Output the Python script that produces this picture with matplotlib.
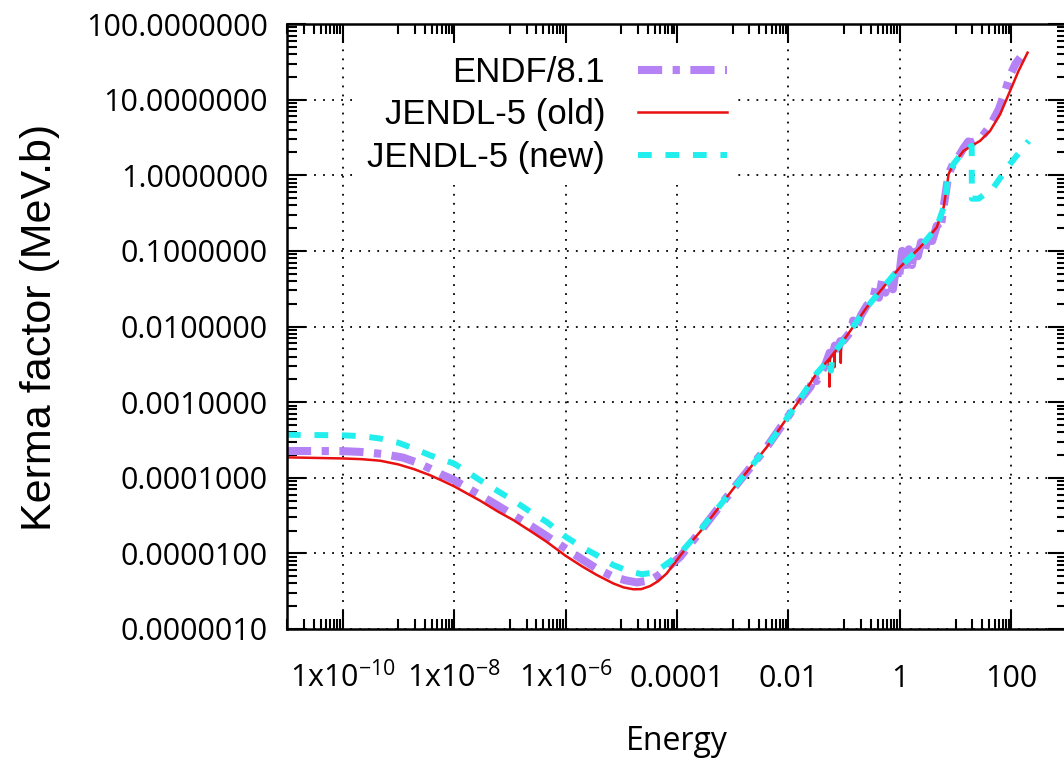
import matplotlib
matplotlib.use("Agg")
import matplotlib.pyplot as plt
from matplotlib.ticker import FixedLocator, NullFormatter

# ENDF/8.1 (energy in MeV, kerma in MeV.b)
endf_e = [1e-11, 1e-10, 2.0e-10, 5.0e-10, 1.2e-9, 2.2e-9, 3.7e-9, 6e-9, 1e-8, 1.7e-8,
          2.9e-8, 6e-8, 1.16e-7, 2.4e-7, 4.6e-7, 1e-6, 2e-6, 3.6e-6, 7.2e-6, 1.2e-5,
          1.9e-5, 3.3e-5, 4.6e-5, 6.5e-5, 1.14e-4, 2.4e-4, 1.03e-3, 4.1e-3, 1.42e-2,
          0.025, 0.029, 0.032, 0.045, 0.055, 0.06, 0.068, 0.075, 0.085, 0.097,
          0.13, 0.145, 0.16, 0.2, 0.256, 0.33, 0.38, 0.42, 0.48, 0.55,
          0.65, 0.75, 0.85, 0.95, 1.1, 1.25, 1.45, 1.65, 1.85, 2.1,
          2.4, 2.8, 3.3, 3.8, 4.6, 5.3, 6.1, 6.8, 7.5, 9.2,
          12, 14, 17, 19.5, 27.5, 41.7, 60, 78, 95, 120, 145]
endf_k = [2.26e-4, 2.25e-4, 2.2e-4, 2.07e-4, 1.85e-4, 1.58e-4, 1.32e-4, 1.1e-4, 9.3e-5, 7.4e-5,
          5.9e-5, 4.3e-5, 3.2e-5, 2.3e-5, 1.69e-5, 1.16e-5, 8.3e-6, 6.3e-6, 4.9e-6, 4.4e-6,
          4.13e-6, 4.4e-6, 5.1e-6, 6.3e-6, 9.0e-6, 1.8e-5, 7.2e-5, 2.55e-4, 9.5e-4,
          1.6e-3, 2.3e-3, 1.9e-3, 3.0e-3, 4.5e-3, 3.6e-3, 5.6e-3, 4.3e-3, 6.4e-3, 6.5e-3,
          8.5e-3, 1.2e-2, 9.0e-3, 1.4e-2, 1.9e-2, 2.3e-2, 3.6e-2, 2.4e-2, 4.1e-2, 2.8e-2,
          4.2e-2, 3.1e-2, 6.0e-2, 4.0e-2, 0.10, 5.0e-2, 0.105, 6.5e-2, 0.11, 8.5e-2,
          0.13, 0.10, 0.165, 0.135, 0.215, 0.185, 0.38, 0.65, 1.05, 1.45,
          1.9, 2.3, 2.8, 2.7, 3.0, 4.5, 7.5, 13, 21, 30, 36]

# JENDL-5 (old)
old_e = [1e-11, 1e-10, 2.2e-10, 4.7e-10, 1e-9, 1.9e-9, 3.7e-9, 6e-9, 1e-8, 1.7e-8,
         2.9e-8, 6e-8, 1.16e-7, 2.4e-7, 4.6e-7, 1e-6, 2e-6, 3.6e-6, 7.2e-6, 1.1e-5,
         1.65e-5, 2.3e-5, 3.3e-5, 4.6e-5, 6.5e-5, 1.14e-4, 1.7e-4, 2.6e-4, 1.03e-3, 4.1e-3,
         1.42e-2, 3.2e-2, 0.0535, 0.0544, 0.0553, 0.066, 0.067, 0.068, 0.086, 0.087,
         0.088, 0.097, 0.256, 1.01, 2.3, 4.6, 6.1, 6.8, 7.5, 9.2,
         13.9, 19.5, 27.5, 41.7, 63, 95, 135, 196]
old_k = [1.86e-4, 1.8e-4, 1.76e-4, 1.68e-4, 1.5e-4, 1.3e-4, 1.08e-4, 9.2e-5, 7.7e-5, 6.2e-5,
         5.0e-5, 3.6e-5, 2.75e-5, 1.95e-5, 1.42e-5, 9.3e-6, 6.7e-6, 5.2e-6, 4.0e-6, 3.55e-6,
         3.35e-6, 3.37e-6, 3.7e-6, 4.3e-6, 5.4e-6, 9.3e-6, 1.35e-5, 1.93e-5, 7.2e-5, 2.55e-4,
         9.5e-4, 2.4e-3, 3.7e-3, 1.6e-3, 3.8e-3, 4.5e-3, 2.9e-3, 4.6e-3, 5.7e-3, 3.3e-3,
         5.8e-3, 6.5e-3, 1.8e-2, 6.1e-2, 0.111, 0.205, 0.376, 0.62, 1.04, 1.41,
         2.1, 2.45, 2.85, 3.87, 6.4, 13, 24, 41.8]

# JENDL-5 (new)
new_e = [1e-11, 1e-10, 2.2e-10, 4.7e-10, 1e-9, 1.9e-9, 3.7e-9, 6e-9, 1e-8, 1.7e-8,
         2.9e-8, 6e-8, 1.16e-7, 2.4e-7, 4.6e-7, 1e-6, 2e-6, 3.6e-6, 7.2e-6, 1.3e-5,
         2.33e-5, 3.4e-5, 5.0e-5, 7.5e-5, 1.14e-4, 2.4e-4, 1.03e-3, 4.1e-3, 1.42e-2, 3.2e-2,
         0.054, 0.058, 0.062, 0.097, 0.256, 1.01, 2.3, 4.6, 6.1, 6.8,
         7.5, 9.2, 13.9, 19.5, 19.6, 26, 48, 95, 205]
new_k = [3.7e-4, 3.64e-4, 3.55e-4, 3.3e-4, 2.9e-4, 2.43e-4, 1.98e-4, 1.75e-4, 1.54e-4, 1.2e-4,
         9.3e-5, 6.7e-5, 5.0e-5, 3.5e-5, 2.6e-5, 1.66e-5, 1.2e-5, 9.5e-6, 7.0e-6, 5.9e-6,
         5.3e-6, 5.5e-6, 6.3e-6, 7.8e-6, 1.0e-5, 1.87e-5, 7.2e-5, 2.55e-4, 9.5e-4, 2.4e-3,
         3.7e-3, 2.6e-3, 4.2e-3, 6.5e-3, 1.8e-2, 6.1e-2, 0.111, 0.205, 0.376, 0.62,
         1.04, 1.41, 2.1, 2.45, 0.49, 0.49, 0.69, 1.41, 2.85]

x_major = [1e-10, 1e-8, 1e-6, 1e-4, 1e-2, 1, 100]
x_labels = ["1x10$^{-10}$", "1x10$^{-8}$", "1x10$^{-6}$", "0.0001", "0.01", "1", "100"]
y_major = [1e-6, 1e-5, 1e-4, 1e-3, 1e-2, 1e-1, 1, 10, 100]
y_labels = ["%.7f" % v for v in y_major]

plt.rcParams["font.family"] = ["Liberation Sans", "DejaVu Sans"]
plt.rcParams["mathtext.fontset"] = "custom"
plt.rcParams["mathtext.rm"] = "Open Sans"
plt.rcParams["mathtext.default"] = "regular"

fig = plt.figure(figsize=(10.64, 7.6), dpi=100)
ax = fig.add_axes([287 / 1064, 1 - 629 / 760, 780 / 1064, 605 / 760])
ax.set_xscale("log")
ax.set_yscale("log")

ax.plot(endf_e, endf_k, color="#b482f5", lw=5.8, ls=(0, (3.0, 1.3, 0.9, 1.3)), label="ENDF/8.1")
ax.plot(old_e, old_k, color="#e81010", lw=1.8, label="JENDL-5 (old)")
ax.plot(new_e, new_k, color="#22eeee", lw=4.3, ls=(0, (2.3, 2.3)), label="JENDL-5 (new)")

ax.set_xlim(1e-11, 1e3)
ax.set_ylim(1e-6, 100)

ax.set_xticks(x_major)
ax.set_xticklabels(x_labels)
minor_x = [k * 10.0 ** e for e in range(-11, 3, 2) for k in range(1, 10)]
ax.xaxis.set_minor_locator(FixedLocator(minor_x))
ax.xaxis.set_minor_formatter(NullFormatter())
ax.set_yticks(y_major)
ax.set_yticklabels(y_labels)
minor_y = [k * 10.0 ** e for e in range(-6, 2) for k in range(2, 10)]
ax.yaxis.set_minor_locator(FixedLocator(minor_y))
ax.yaxis.set_minor_formatter(NullFormatter())

ax.tick_params(which="both", direction="in", top=True, right=True, width=1.5)
ax.tick_params(which="major", length=13.5)
ax.tick_params(which="minor", length=7)
ax.tick_params(axis="y", pad=13.7, labelsize=22)
ax.tick_params(axis="x", pad=41.8, labelsize=22)
for t in ax.get_xticklabels():
    t.set_va("baseline")
    t.set_fontfamily("Open Sans")
for t in ax.get_yticklabels():
    t.set_fontfamily("Open Sans")

ax.grid(True, which="major", color="black", ls=(0, (1, 4)), lw=1.3)
for s in ax.spines.values():
    s.set_linewidth(1.8)

ax.legend(loc="upper right", bbox_to_anchor=(738 / 1064, 1 - 45 / 760),
          bbox_transform=fig.transFigure, markerfirst=False, fancybox=False,
          framealpha=1, edgecolor="none", facecolor="white", fontsize=25,
          handlelength=2.56, handletextpad=0.95, labelspacing=0.27,
          borderpad=0.32, borderaxespad=0)

fig.text(40 / 1064, 1 - 327 / 760, "Kerma factor (MeV.b)", rotation=90,
         fontsize=31, ha="center", va="center")
fig.text(677 / 1064, 1 - 742 / 760, "Energy", fontsize=23, family="Open Sans",
         ha="center", va="center")

fig.savefig("out.png", dpi=100)
